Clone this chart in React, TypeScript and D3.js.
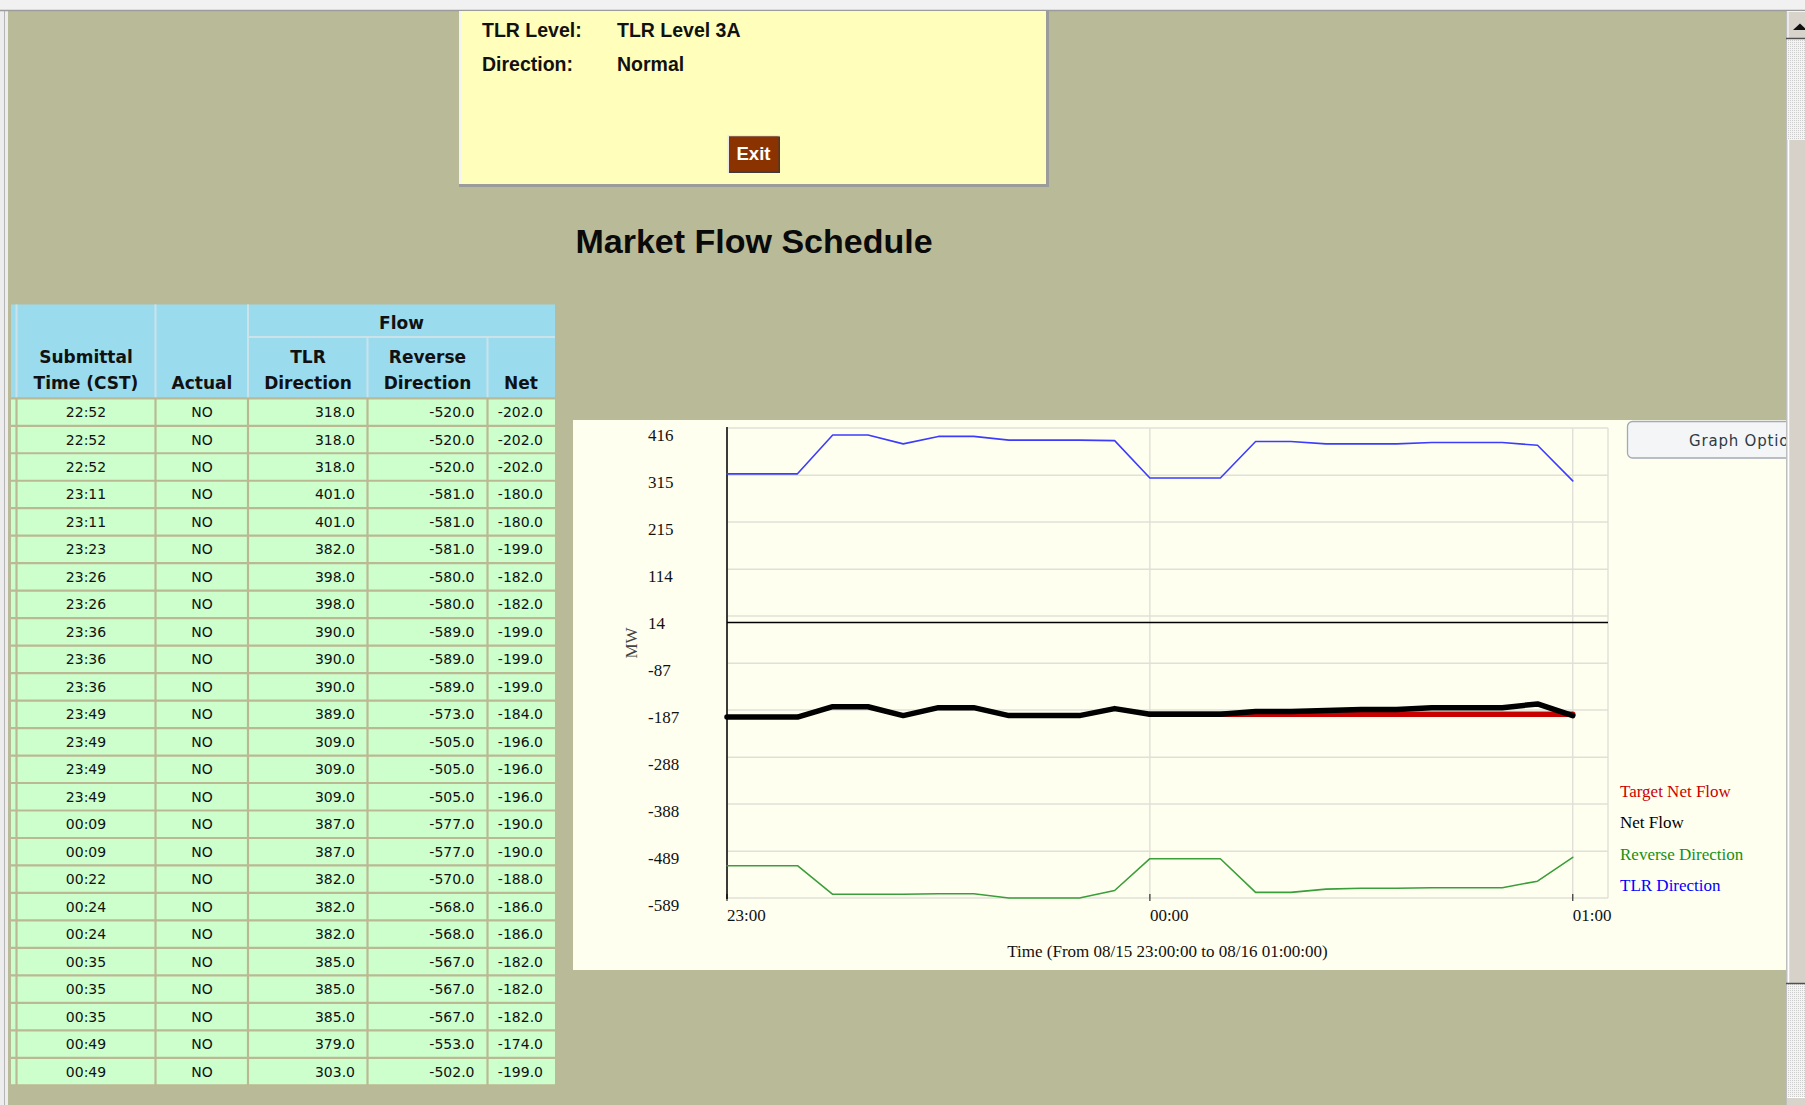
import React, { useEffect, useRef } from 'react';
import * as d3 from 'd3';

// Schedule table rows (one per submittal)
const submittalTimes = ["22:52", "22:52", "22:52", "23:11", "23:11", "23:23", "23:26", "23:26", "23:36", "23:36", "23:36", "23:49", "23:49", "23:49", "23:49", "00:09", "00:09", "00:22", "00:24", "00:24", "00:35", "00:35", "00:35", "00:49", "00:49"];
const actualFlags = ["NO", "NO", "NO", "NO", "NO", "NO", "NO", "NO", "NO", "NO", "NO", "NO", "NO", "NO", "NO", "NO", "NO", "NO", "NO", "NO", "NO", "NO", "NO", "NO", "NO"];
const tlrDirection = [318, 318, 318, 401, 401, 382, 398, 398, 390, 390, 390, 389, 309, 309, 309, 387, 387, 382, 382, 382, 385, 385, 385, 379, 303];
const reverseDirection = [-520, -520, -520, -581, -581, -581, -580, -580, -589, -589, -589, -573, -505, -505, -505, -577, -577, -570, -568, -568, -567, -567, -567, -553, -502];
const netFlow = [-202, -202, -202, -180, -180, -199, -182, -182, -199, -199, -199, -184, -196, -196, -196, -190, -190, -188, -186, -186, -182, -182, -182, -174, -199];

// Graph: the same schedule sampled every 5 minutes
const chartTimes = ["23:00", "23:05", "23:10", "23:15", "23:20", "23:25", "23:30", "23:35", "23:40", "23:45", "23:50", "23:55", "00:00", "00:05", "00:10", "00:15", "00:20", "00:25", "00:30", "00:35", "00:40", "00:45", "00:50", "00:55", "01:00"];
const targetNetFlow = [null, null, null, null, null, null, null, null, null, null, null, null, -196, -196, -196, -196, -196, -196, -196, -196, -196, -196, -196, -196, -196];
const yTickLabels = [416, 315, 215, 114, 14, -87, -187, -288, -388, -489, -589];
const legendLabels = ["Target Net Flow", "Net Flow", "Reverse Direction", "TLR Direction"];
const legendColors = ["#CC0000", "#000000", "#159015", "#0000FF"];

const W = 1805, H = 1105;
const OLIVE = "#B9BA98";
const SANS = "'Liberation Sans', Arial, sans-serif";
const DEJA = "'DejaVu Sans', Verdana, sans-serif";
const SERIF = "'Liberation Serif', 'Times New Roman', serif";

const parseClock = (s: string) => {
  const [h, m] = s.split(":").map(Number);
  return new Date(2000, 7, h >= 12 ? 15 : 16, h, m);
};

function App() {
  const ref = useRef<SVGSVGElement>(null);

  useEffect(() => {
    if (!ref.current) return;
    const svg = d3.select(ref.current);
    svg.selectAll("*").remove();

    // page background + window chrome
    svg.append("rect").attr("width", W).attr("height", H).attr("fill", OLIVE);
    svg.append("rect").attr("x", 0).attr("y", 0).attr("width", 8).attr("height", H).attr("fill", "#EDEDED");
    svg.append("line").attr("x1", 4.5).attr("x2", 4.5).attr("y1", 0).attr("y2", H)
       .attr("stroke", "#B4B4B4").attr("stroke-width", 1);
    svg.append("rect").attr("x", 0).attr("y", 0).attr("width", W).attr("height", 10).attr("fill", "#F1F1F1");
    svg.append("line").attr("x1", 0).attr("x2", W).attr("y1", 10.5).attr("y2", 10.5)
       .attr("stroke", "#9C9C9C").attr("stroke-width", 1.5);

    // yellow info box
    const box = svg.append("g");
    box.append("rect").attr("x", 459).attr("y", 11).attr("width", 590).attr("height", 176).attr("fill", "#9B9B9B");
    box.append("rect").attr("x", 459).attr("y", 11).attr("width", 587).attr("height", 173).attr("fill", "#F4F4F4");
    box.append("rect").attr("x", 461.5).attr("y", 11.5).attr("width", 584.5).attr("height", 172.5).attr("fill", "#FFFFBB");
    const info = [["TLR Level:", "TLR Level 3A", 37], ["Direction:", "Normal", 70.5]];
    info.forEach(([k, v, yy]) => {
      box.append("text").attr("x", 482).attr("y", yy as number).text(k as string)
         .attr("font-family", SANS).attr("font-weight", "bold").attr("font-size", 19.5).attr("fill", "#111");
      box.append("text").attr("x", 617).attr("y", yy as number).text(v as string)
         .attr("font-family", SANS).attr("font-weight", "bold").attr("font-size", 19.5).attr("fill", "#111");
    });
    // Exit button
    box.append("rect").attr("x", 727.5).attr("y", 135).attr("width", 52.5).attr("height", 38).attr("fill", "#EAEAEA");
    box.append("rect").attr("x", 729).attr("y", 136.5).attr("width", 51).attr("height", 36.5).attr("fill", "#3C3C3C");
    box.append("rect").attr("x", 729).attr("y", 136.5).attr("width", 49.5).attr("height", 35).attr("fill", "#8B3300");
    box.append("text").attr("x", 753.5).attr("y", 160).attr("text-anchor", "middle").text("Exit")
       .attr("font-family", SANS).attr("font-weight", "bold").attr("font-size", 18.5).attr("fill", "#FFFFFF");

    // page title
    svg.append("text").attr("x", 754).attr("y", 253).attr("text-anchor", "middle")
       .text("Market Flow Schedule")
       .attr("font-family", SANS).attr("font-weight", "bold").attr("font-size", 34).attr("fill", "#0A0A0A");

    // ---- schedule table ----
    const colEdges = [11, 16.5, 155.5, 248, 367.5, 487.5, 555];
    const headTop = 304.5, flowBottom = 337, headBottom = 398.3, rowH = 27.48;
    const nRows = submittalTimes.length;
    const tableBottom = headBottom + nRows * rowH;
    const tbl = svg.append("g");
    tbl.append("rect").attr("x", colEdges[0]).attr("y", headTop)
       .attr("width", colEdges[6] - colEdges[0]).attr("height", headBottom - headTop).attr("fill", "#9ADCEE");
    tbl.append("rect").attr("x", colEdges[0]).attr("y", headBottom)
       .attr("width", colEdges[6] - colEdges[0]).attr("height", tableBottom - headBottom).attr("fill", "#CCFFCC");

    // header separators
    const hLine = "#CBE3E8";
    [colEdges[1], colEdges[2], colEdges[3]].forEach(cx => {
      tbl.append("line").attr("x1", cx).attr("x2", cx).attr("y1", headTop).attr("y2", headBottom)
         .attr("stroke", hLine).attr("stroke-width", 2);
    });
    [colEdges[4], colEdges[5]].forEach(cx => {
      tbl.append("line").attr("x1", cx).attr("x2", cx).attr("y1", flowBottom).attr("y2", headBottom)
         .attr("stroke", hLine).attr("stroke-width", 2);
    });
    tbl.append("line").attr("x1", colEdges[3]).attr("x2", colEdges[6]).attr("y1", flowBottom).attr("y2", flowBottom)
       .attr("stroke", hLine).attr("stroke-width", 2);

    // body grid lines
    const bLine = "#BBB994";
    d3.range(nRows + 1).forEach(i => {
      const yy = headBottom + i * rowH;
      tbl.append("line").attr("x1", colEdges[0]).attr("x2", colEdges[6]).attr("y1", yy).attr("y2", yy)
         .attr("stroke", bLine).attr("stroke-width", 2.2);
    });
    colEdges.slice(1, 6).forEach(cx => {
      tbl.append("line").attr("x1", cx).attr("x2", cx).attr("y1", headBottom).attr("y2", tableBottom)
         .attr("stroke", bLine).attr("stroke-width", 2.2);
    });

    // header text
    const headTexts: [string, number, number][] = [
      ["Submittal", 86, 363], ["Time (CST)", 86, 389], ["Actual", 202, 389], ["Flow", 401.5, 329],
      ["TLR", 308, 363], ["Direction", 308, 389], ["Reverse", 427.5, 363], ["Direction", 427.5, 389], ["Net", 521, 389]
    ];
    headTexts.forEach(([t, hx, hy]) => {
      tbl.append("text").attr("x", hx).attr("y", hy).attr("text-anchor", "middle").text(t)
         .attr("font-family", DEJA).attr("font-weight", "bold").attr("font-size", 17).attr("fill", "#111");
    });

    // body text (plain hyphen for negatives, like the original page)
    const fmt = (v: number) => v.toFixed(1);
    const cellFont = (s: d3.Selection<SVGTextElement, unknown, null, undefined>) =>
      s.attr("font-family", DEJA).attr("font-size", 14).attr("fill", "#111");
    submittalTimes.forEach((t, i) => {
      const by = headBottom + i * rowH + rowH / 2 + 5;
      tbl.append("text").attr("x", 86).attr("y", by).attr("text-anchor", "middle").text(t).call(cellFont);
      tbl.append("text").attr("x", 202).attr("y", by).attr("text-anchor", "middle").text(actualFlags[i]).call(cellFont);
      tbl.append("text").attr("x", 355).attr("y", by).attr("text-anchor", "end").text(fmt(tlrDirection[i])).call(cellFont);
      tbl.append("text").attr("x", 474.5).attr("y", by).attr("text-anchor", "end").text(fmt(reverseDirection[i])).call(cellFont);
      tbl.append("text").attr("x", 543).attr("y", by).attr("text-anchor", "end").text(fmt(netFlow[i])).call(cellFont);
    });

    // ---- graph panel ----
    svg.append("rect").attr("x", 573).attr("y", 420).attr("width", 1213).attr("height", 550).attr("fill", "#FFFFF0");

    const times = chartTimes.map(parseClock);
    const x = d3.scaleTime()
                .domain([times[0], d3.timeMinute.offset(times[times.length - 1], 5)])
                .range([727, 1608]);
    const y = d3.scaleLinear()
                .domain([d3.min(yTickLabels) as number, d3.max(yTickLabels) as number])
                .range([898, 428]);
    const [x0, x1] = x.range();
    const [yb, yt] = y.range();
    const g = svg.append("g");

    // grid
    yTickLabels.forEach(v => {
      g.append("line").attr("x1", x0).attr("x2", x1).attr("y1", y(v)).attr("y2", y(v))
       .attr("stroke", "#E0E0D8").attr("stroke-width", 1.6);
    });
    const xTicks = x.ticks(d3.timeHour.every(1) as d3.TimeInterval);
    xTicks.forEach(t => {
      g.append("line").attr("x1", x(t)).attr("x2", x(t)).attr("y1", yt).attr("y2", yb)
       .attr("stroke", "#E0E0D8").attr("stroke-width", 1.4);
      g.append("line").attr("x1", x(t)).attr("x2", x(t)).attr("y1", yb - 4).attr("y2", yb + 3)
       .attr("stroke", "#333").attr("stroke-width", 1.2);
    });
    g.append("line").attr("x1", x1).attr("x2", x1).attr("y1", yt).attr("y2", yb)
     .attr("stroke", "#E0E0D8").attr("stroke-width", 1.4);

    // axis + zero line
    g.append("line").attr("x1", x0).attr("x2", x0).attr("y1", yt - 1).attr("y2", yb + 1)
     .attr("stroke", "#000").attr("stroke-width", 1.5);
    g.append("line").attr("x1", x0).attr("x2", x1).attr("y1", y(0)).attr("y2", y(0))
     .attr("stroke", "#000").attr("stroke-width", 1.5);

    // tick labels
    yTickLabels.forEach(v => {
      g.append("text").attr("x", 648).attr("y", y(v) + 12.5).text(String(v))
       .attr("font-family", SERIF).attr("font-size", 17).attr("fill", "#111");
    });
    const tf = d3.timeFormat("%H:%M");
    xTicks.forEach(t => {
      g.append("text").attr("x", x(t)).attr("y", 920.5).text(tf(t))
       .attr("font-family", SERIF).attr("font-size", 17).attr("fill", "#111");
    });
    g.append("text").attr("transform", `translate(637, 643) rotate(-90)`).attr("text-anchor", "middle")
     .text("MW").attr("font-family", SERIF).attr("font-size", 17).attr("fill", "#444");
    g.append("text").attr("x", (x0 + x1) / 2).attr("y", 957).attr("text-anchor", "middle")
     .text("Time (From 08/15 23:00:00 to 08/16 01:00:00)")
     .attr("font-family", SERIF).attr("font-size", 17).attr("fill", "#111");

    // series lines
    const line = d3.line<number | null>()
                   .defined(d => d != null)
                   .x((_, i) => x(times[i]))
                   .y(d => y(d as number));
    const series: [(number | null)[], string, number][] = [
      [tlrDirection, "#3C3CFF", 1.6],
      [reverseDirection, "#3A9E3A", 1.6],
      [targetNetFlow, "#C80000", 5.5],
      [netFlow, "#000000", 5.5]
    ];
    series.forEach(([vals, color, w]) => {
      g.append("path").attr("d", line(vals) as string).attr("fill", "none")
       .attr("stroke", color).attr("stroke-width", w)
       .attr("stroke-linejoin", "round").attr("stroke-linecap", "round");
    });

    // legend
    legendLabels.forEach((lbl, i) => {
      g.append("text").attr("x", 1620).attr("y", 797 + i * 31.3).text(lbl)
       .attr("font-family", SERIF).attr("font-size", 17).attr("fill", legendColors[i]);
    });

    // Graph Options button (runs under the scrollbar, as on the page)
    g.append("rect").attr("x", 1627.5).attr("y", 421.5).attr("width", 190).attr("height", 36.5).attr("rx", 5)
     .attr("fill", "#F3F5F7").attr("stroke", "#A2AAB2").attr("stroke-width", 1.3);
    g.append("text").attr("x", 1689).attr("y", 446).text("Graph Options")
     .attr("font-family", DEJA).attr("font-size", 15).attr("letter-spacing", 0.8).attr("fill", "#2E3A44");

    // ---- scrollbar ----
    const defs = svg.append("defs");
    const pat = defs.append("pattern").attr("id", "dots").attr("width", 2).attr("height", 2)
                    .attr("patternUnits", "userSpaceOnUse");
    pat.append("rect").attr("width", 2).attr("height", 2).attr("fill", "#F4F4F4");
    pat.append("rect").attr("width", 1).attr("height", 1).attr("fill", "#CCCCCC");
    const sb = svg.append("g");
    sb.append("rect").attr("x", 1786).attr("y", 11).attr("width", 19).attr("height", H - 11).attr("fill", "url(#dots)");
    sb.append("line").attr("x1", 1786.5).attr("x2", 1786.5).attr("y1", 11).attr("y2", H)
      .attr("stroke", "#BEBEBE").attr("stroke-width", 1);
    sb.append("rect").attr("x", 1787).attr("y", 12).attr("width", 18).attr("height", 26).attr("fill", "#D8D4CC");
    sb.append("line").attr("x1", 1788).attr("x2", 1788).attr("y1", 12).attr("y2", 38).attr("stroke", "#FFFFFF");
    sb.append("path").attr("d", "M1793,30 L1800,23.5 L1807,30 Z").attr("fill", "#111");
    sb.append("line").attr("x1", 1786).attr("x2", W).attr("y1", 38.5).attr("y2", 38.5)
      .attr("stroke", "#505050").attr("stroke-width", 1.5);
    sb.append("rect").attr("x", 1787).attr("y", 140).attr("width", 18).attr("height", 843).attr("fill", "#D6D2CA");
    sb.append("line").attr("x1", 1788.5).attr("x2", 1788.5).attr("y1", 140).attr("y2", 983)
      .attr("stroke", "#FFFFFF").attr("stroke-width", 1.5);
    sb.append("line").attr("x1", 1786).attr("x2", W).attr("y1", 983.5).attr("y2", 983.5)
      .attr("stroke", "#505050").attr("stroke-width", 1.5);
    sb.append("rect").attr("x", 1787).attr("y", 1097).attr("width", 18).attr("height", 8).attr("fill", "#D8D4CC");
    sb.append("line").attr("x1", 1787).attr("x2", W).attr("y1", 1097.5).attr("y2", 1097.5).attr("stroke", "#FFFFFF");
  }, []);

  return (
    <svg ref={ref} width={W} height={H}
         style={{ position: 'absolute', left: 0, top: 0, display: 'block' }} />
  );
}

export default App;
